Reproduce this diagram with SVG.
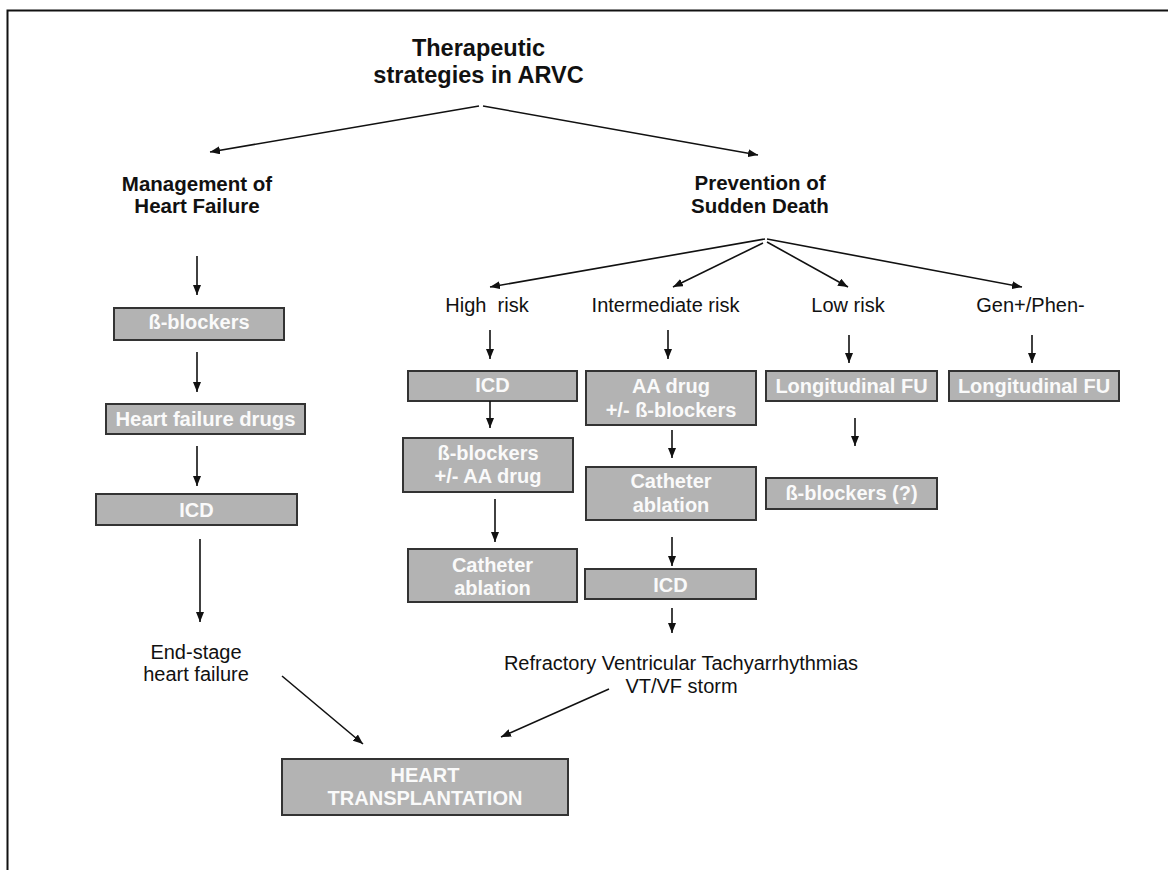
<svg xmlns="http://www.w3.org/2000/svg" width="1168" height="870" viewBox="0 0 1168 870">
<style>
  .lbl { font-family: "Liberation Sans", Arial, sans-serif; font-size: 20px; fill: #111; text-anchor: middle; }
  .hd { font-family: "Liberation Sans", Arial, sans-serif; font-size: 20.5px; font-weight: bold; fill: #111; text-anchor: middle; }
  .ttl { font-family: "Liberation Sans", Arial, sans-serif; font-size: 23.5px; font-weight: bold; fill: #111; text-anchor: middle; }
  .box { fill: #b3b3b3; stroke: #333; stroke-width: 2; }
  .bt { font-family: "Liberation Sans", Arial, sans-serif; font-size: 20px; font-weight: bold; fill: #fafafa; text-anchor: middle; }
  .con { stroke: #111; stroke-width: 1.6; fill: none; marker-end: url(#ah); }
</style>
<defs>
  <marker id="ah" markerUnits="userSpaceOnUse" markerWidth="10" markerHeight="8" refX="10" refY="4" orient="auto">
    <path d="M0,0 L10,4 L0,8 z" fill="#111"/>
  </marker>
</defs>
<rect width="1168" height="870" fill="#fff"/>
<path d="M7.5 870 V10.5 H1168" fill="none" stroke="#111" stroke-width="2"/>

<g id="title">
  <text class="ttl" x="478.5" y="56">Therapeutic</text>
  <text class="ttl" x="478.5" y="83">strategies in ARVC</text>
</g>
<g id="management">
  <text class="hd" x="197" y="191">Management of</text>
  <text class="hd" x="197" y="213">Heart Failure</text>
</g>
<g id="prevention">
  <text class="hd" x="760" y="190">Prevention of</text>
  <text class="hd" x="760" y="213">Sudden Death</text>
</g>

<g id="hf-bblockers">
  <rect class="box" x="114" y="308" width="170" height="32"/>
  <text class="bt" x="199" y="329">ß-blockers</text>
</g>
<g id="hf-drugs">
  <rect class="box" x="106" y="404" width="199" height="30"/>
  <text class="bt" x="205.5" y="426" textLength="180" lengthAdjust="spacingAndGlyphs">Heart failure drugs</text>
</g>
<g id="hf-icd">
  <rect class="box" x="96" y="494" width="201" height="31"/>
  <text class="bt" x="196.5" y="517">ICD</text>
</g>
<g id="end-stage">
  <text class="lbl" x="196" y="659">End-stage</text>
  <text class="lbl" x="196" y="681">heart failure</text>
</g>

<g id="high-risk">
  <text class="lbl" x="487" y="312" style="white-space:pre">High  risk</text>
</g>
<g id="high-icd">
  <rect class="box" x="408" y="371" width="169" height="30"/>
  <text class="bt" x="492.5" y="392">ICD</text>
</g>
<g id="high-bb">
  <rect class="box" x="403" y="438" width="170" height="54"/>
  <text class="bt" x="488" y="460">ß-blockers</text>
  <text class="bt" x="488" y="483">+/- AA drug</text>
</g>
<g id="high-ablation">
  <rect class="box" x="408" y="549" width="169" height="53"/>
  <text class="bt" x="492.5" y="572">Catheter</text>
  <text class="bt" x="492.5" y="595">ablation</text>
</g>

<g id="int-risk">
  <text class="lbl" x="665.5" y="312">Intermediate risk</text>
</g>
<g id="int-aa">
  <rect class="box" x="586" y="371" width="170" height="54"/>
  <text class="bt" x="671" y="393">AA drug</text>
  <text class="bt" x="671" y="417">+/- ß-blockers</text>
</g>
<g id="int-ablation">
  <rect class="box" x="586" y="467" width="170" height="53"/>
  <text class="bt" x="671" y="488">Catheter</text>
  <text class="bt" x="671" y="512">ablation</text>
</g>
<g id="int-icd">
  <rect class="box" x="585" y="569" width="171" height="30"/>
  <text class="bt" x="670.5" y="592">ICD</text>
</g>
<g id="refractory">
  <text class="lbl" x="681" y="670">Refractory Ventricular Tachyarrhythmias</text>
  <text class="lbl" x="681.5" y="693">VT/VF storm</text>
</g>

<g id="low-risk">
  <text class="lbl" x="848" y="312">Low risk</text>
</g>
<g id="low-fu">
  <rect class="box" x="766" y="371" width="171" height="30"/>
  <text class="bt" x="851.5" y="393">Longitudinal FU</text>
</g>
<g id="low-bb">
  <rect class="box" x="766" y="478" width="171" height="31"/>
  <text class="bt" x="851.5" y="500">ß-blockers (?)</text>
</g>

<g id="gen-phen">
  <text class="lbl" x="1030.5" y="312">Gen+/Phen-</text>
</g>
<g id="gen-fu">
  <rect class="box" x="949" y="371" width="170" height="30"/>
  <text class="bt" x="1034" y="393">Longitudinal FU</text>
</g>

<g id="transplant">
  <rect class="box" x="282" y="759" width="286" height="56"/>
  <text class="bt" x="425" y="782">HEART</text>
  <text class="bt" x="425" y="805">TRANSPLANTATION</text>
</g>

<g id="connectors">
  <line class="con" x1="479" y1="106" x2="210" y2="152"/>
  <line class="con" x1="483" y1="106" x2="758" y2="155"/>

  <line class="con" x1="765" y1="239" x2="490" y2="287"/>
  <line class="con" x1="763" y1="243" x2="673" y2="287"/>
  <line class="con" x1="767" y1="242" x2="848" y2="287"/>
  <line class="con" x1="767" y1="239" x2="1022" y2="287"/>

  <line class="con" x1="197" y1="256" x2="197" y2="295"/>
  <line class="con" x1="197" y1="352" x2="197" y2="392"/>
  <line class="con" x1="197" y1="446" x2="197" y2="486"/>
  <line class="con" x1="200" y1="539" x2="200" y2="622"/>

  <line class="con" x1="490" y1="330" x2="490" y2="359"/>
  <line class="con" x1="490" y1="401" x2="490" y2="428"/>
  <line class="con" x1="495" y1="499" x2="495" y2="542"/>

  <line class="con" x1="668" y1="330" x2="668" y2="359"/>
  <line class="con" x1="672" y1="430" x2="672" y2="458"/>
  <line class="con" x1="672" y1="537" x2="672" y2="566"/>
  <line class="con" x1="672" y1="608" x2="672" y2="633"/>

  <line class="con" x1="849" y1="335" x2="849" y2="363"/>
  <line class="con" x1="855" y1="418" x2="855" y2="446"/>
  <line class="con" x1="1032" y1="335" x2="1032" y2="363"/>

  <line class="con" x1="282" y1="676" x2="363" y2="744"/>
  <line class="con" x1="609" y1="689" x2="501" y2="737"/>
</g>
</svg>
